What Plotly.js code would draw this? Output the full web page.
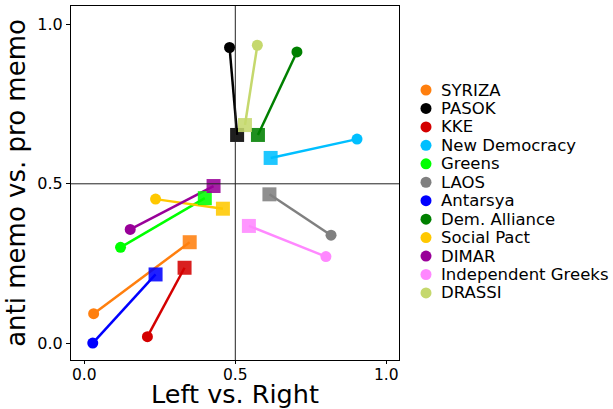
<!DOCTYPE html>
<html><head><meta charset="utf-8">
<script src="https://cdn.plot.ly/plotly-3.0.1.min.js"></script>
<style>html,body{margin:0;padding:0;background:#fff}</style>
</head><body><div id="chart" style="width:613px;height:409px"></div>
<script>
const parties = ["SYRIZA","PASOK","KKE","New Democracy","Greens","LAOS","Antarsya","Dem. Alliance","Social Pact","DIMAR","Independent Greeks","DRASSI"];
const colors = ["#ff7f0e","#000000","#d40000","#00bfff","#00ff00","#808080","#0000ff","#008000","#ffc800","#990099","#ff88ff","#c5d86d"];
// circle (origin) positions
const circleX = [0.031,0.481,0.209,0.903,0.120,0.817,0.028,0.704,0.236,0.152,0.800,0.573];
const circleY = [0.093,0.927,0.021,0.640,0.301,0.339,0.001,0.913,0.452,0.357,0.272,0.934];
// square (end) positions
const squareX = [0.349,0.506,0.332,0.617,0.399,0.613,0.236,0.575,0.459,0.428,0.545,0.532];
const squareY = [0.317,0.653,0.237,0.581,0.455,0.467,0.216,0.653,0.422,0.493,0.368,0.684];
const tickVals = [0, 0.5, 1];
const tickText = ['0.0','0.5','1.0'];

const W = 613, H = 409, M = {l:71, r:214, t:6, b:49};
const pw = W - M.l - M.r, ph = H - M.t - M.b;

const traces = [];
parties.forEach((p,i)=>{
  traces.push({x:[circleX[i],squareX[i]], y:[circleY[i],squareY[i]], mode:'lines',
    line:{color:colors[i], width:2.5}, showlegend:false, hoverinfo:'skip'});
});
parties.forEach((p,i)=>{
  traces.push({x:[squareX[i]], y:[squareY[i]], mode:'markers', showlegend:false,
    marker:{symbol:'square', size:14, color:colors[i], opacity:0.88}});
  traces.push({x:[circleX[i]], y:[circleY[i]], mode:'markers', name:p, showlegend:false,
    marker:{symbol:'circle', size:11, color:colors[i]}});
});

// legend built as text annotations + circle shapes (compact rows like the reference)
const legTop = 90, legStep = 18.45, legMarkX = 426, legTextX = 440;
const shapes = [
  {type:'line', xref:'x', yref:'paper', x0:0.5, x1:0.5, y0:0, y1:1, line:{color:'#222', width:1}},
  {type:'line', xref:'paper', yref:'y', x0:0, x1:1, y0:0.5, y1:0.5, line:{color:'#222', width:1}}
];
const annotations = [];
parties.forEach((p,i)=>{
  const py = legTop + i*legStep;
  const yp = (H - M.b - py)/ph;
  shapes.push({type:'circle', xref:'paper', yref:'paper', xsizemode:'pixel', ysizemode:'pixel',
    xanchor:(legMarkX - M.l)/pw, yanchor:yp, x0:-5.5, x1:5.5, y0:-5.5, y1:5.5,
    fillcolor:colors[i], line:{width:0}});
  annotations.push({xref:'paper', yref:'paper', x:(legTextX - M.l)/pw, y:yp, xanchor:'left', yanchor:'middle',
    text:p, showarrow:false, borderpad:0, font:{size:16.5, family:'DejaVu Sans', color:'#000'}});
});

const layout = {
  width:W, height:H,
  margin:M,
  paper_bgcolor:'#fff', plot_bgcolor:'#fff',
  font:{family:'DejaVu Sans', color:'#000'},
  showlegend:false,
  xaxis:{range:[-0.044,1.042], tickvals:tickVals, ticktext:tickText,
    showgrid:false, zeroline:false, showline:true, mirror:true, linecolor:'#000', linewidth:1,
    ticks:'outside', ticklen:3, tickcolor:'#000', tickfont:{size:15.5}, ticklabelstandoff:-3,
    title:{text:'Left vs. Right', font:{size:25.5}, standoff:2}},
  yaxis:{range:[-0.052,1.057], tickvals:tickVals, ticktext:tickText,
    showgrid:false, zeroline:false, showline:true, mirror:true, linecolor:'#000', linewidth:1,
    ticks:'outside', ticklen:4, tickcolor:'#000', tickfont:{size:16},
    title:{text:'anti memo vs. pro memo', font:{size:26}, standoff:4}},
  shapes:shapes,
  annotations:annotations
};
Plotly.newPlot('chart', traces, layout, {displayModeBar:false, staticPlot:true});
</script></body></html>
